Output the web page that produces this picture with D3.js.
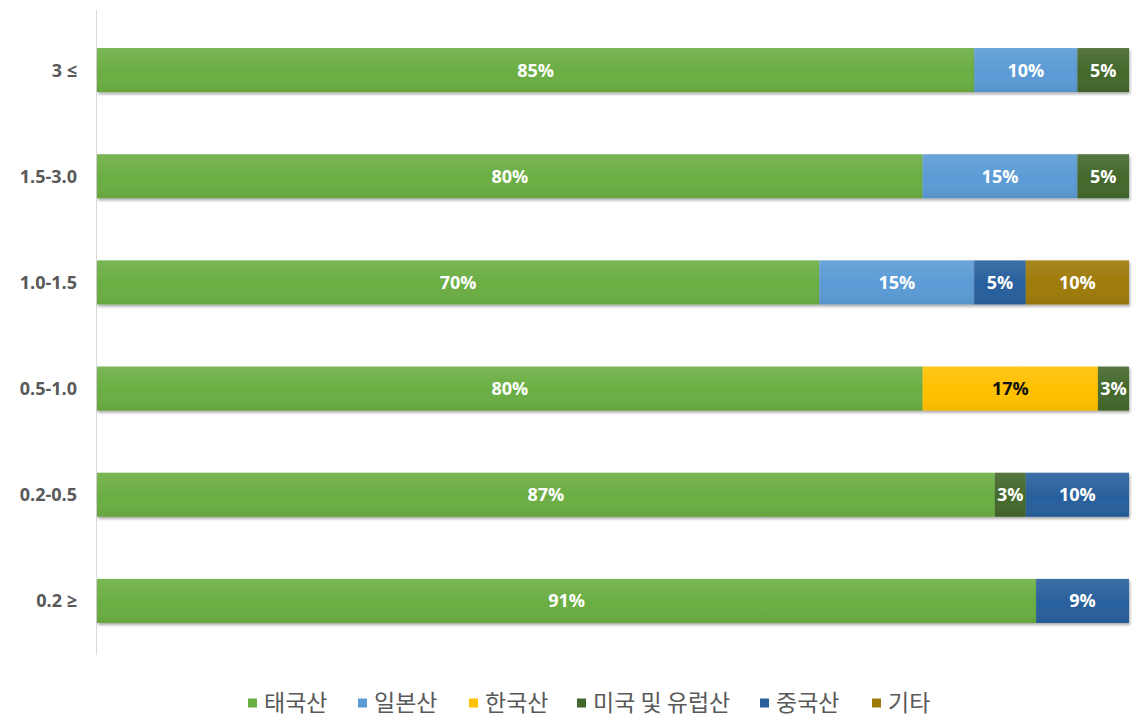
<!DOCTYPE html>
<html>
<head>
<meta charset="utf-8">
<script src="https://cdn.jsdelivr.net/npm/d3@7"></script>
<style>
  html, body { margin: 0; padding: 0; background: #fff; }
  svg { display: block; }
</style>
</head>
<body>
<svg id="chart" width="1132" height="717"></svg>
<script>
// Size-class categories, top to bottom
const categories = ["3 ≤", "1.5-3.0", "1.0-1.5", "0.5-1.0", "0.2-0.5", "0.2 ≥"];

// Origin shares (%) per category, in the same order as categories
const series = ["태국산", "일본산", "한국산", "미국 및 유럽산", "중국산", "기타"];
const thai     = [85, 80, 70, 80, 87, 91];
const japan    = [10, 15, 15, 0, 0, 0];
const korea    = [0, 0, 0, 17, 0, 0];
const usEurope = [5, 5, 0, 3, 3, 0];
const china    = [0, 0, 5, 0, 10, 9];
const other    = [0, 0, 10, 0, 0, 0];

const colors = ["#6BAE43", "#5B9BD5", "#FFC000", "#43682B", "#28609C", "#9E7A08"];
const labelColors = ["#fff", "#fff", "#111", "#fff", "#fff", "#fff"];

const seriesValues = [thai, japan, korea, usEurope, china, other];
const rows = categories.map((c, i) => {
  const r = { category: c };
  series.forEach((s, k) => r[s] = seriesValues[k][i]);
  return r;
});

const svg = d3.select("#chart");
const x = d3.scaleLinear().domain([0, 100]).range([97, 1129]);
const y = d3.scaleBand().domain(categories).range([17, 654])
  .paddingInner(0.585).paddingOuter(0.2925);

const defs = svg.append("defs");
const f = defs.append("filter").attr("id", "shadow")
  .attr("x", "-5%").attr("y", "-20%").attr("width", "110%").attr("height", "150%");
f.append("feGaussianBlur").attr("in", "SourceAlpha").attr("stdDeviation", 1.6).attr("result", "b");
f.append("feOffset").attr("in", "b").attr("dx", 0.5).attr("dy", 2).attr("result", "o");
f.append("feComponentTransfer").attr("in", "o").attr("result", "s")
  .append("feFuncA").attr("type", "linear").attr("slope", 0.35);
const m = f.append("feMerge");
m.append("feMergeNode").attr("in", "s");
m.append("feMergeNode").attr("in", "SourceGraphic");

// Soft top-to-bottom sheen on each segment
const g = defs.append("linearGradient").attr("id", "sheen")
  .attr("x1", 0).attr("y1", 0).attr("x2", 0).attr("y2", 1);
g.append("stop").attr("offset", "0%").attr("stop-color", "#fff").attr("stop-opacity", 0.1);
g.append("stop").attr("offset", "55%").attr("stop-color", "#fff").attr("stop-opacity", 0);
g.append("stop").attr("offset", "100%").attr("stop-color", "#000").attr("stop-opacity", 0.06);

// Vertical category axis line
svg.append("line")
  .attr("x1", 96.5).attr("x2", 96.5).attr("y1", 10).attr("y2", 655)
  .attr("stroke", "#d9d9d9").attr("stroke-width", 1);

const stacked = d3.stack().keys(series)(rows);

const layers = svg.append("g").selectAll("g.layer")
  .data(stacked).join("g").attr("class", "layer")
  .attr("filter", "url(#shadow)");

layers.each(function(layer, k) {
  const sel = d3.select(this).selectAll("g.seg")
    .data(layer.filter(d => d[1] - d[0] > 0)).join("g").attr("class", "seg");
  sel.append("rect")
    .attr("x", d => x(d[0]))
    .attr("y", d => y(d.data.category))
    .attr("width", d => x(d[1]) - x(d[0]))
    .attr("height", y.bandwidth())
    .attr("fill", colors[k]);
  sel.append("rect")
    .attr("x", d => x(d[0]))
    .attr("y", d => y(d.data.category))
    .attr("width", d => x(d[1]) - x(d[0]))
    .attr("height", y.bandwidth())
    .attr("fill", "url(#sheen)");
});

// Value labels
stacked.forEach((layer, k) => {
  svg.append("g").selectAll("text")
    .data(layer.filter(d => d[1] - d[0] > 0)).join("text")
    .attr("x", d => (x(d[0]) + x(d[1])) / 2)
    .attr("y", d => y(d.data.category) + y.bandwidth() / 2)
    .attr("dy", "0.36em")
    .attr("text-anchor", "middle")
    .attr("font-family", "'Open Sans', 'Noto Sans', sans-serif")
    .attr("font-weight", "bold")
    .attr("font-size", 18)
    .attr("fill", labelColors[k])
    .text(d => (d[1] - d[0]) + "%");
});

// Category labels
svg.append("g").selectAll("text")
  .data(categories).join("text")
  .attr("x", 77)
  .attr("y", d => y(d) + y.bandwidth() / 2)
  .attr("dy", "0.36em")
  .attr("text-anchor", "end")
  .attr("font-family", "'Open Sans', 'Noto Sans', sans-serif")
  .attr("font-weight", "bold")
  .attr("font-size", 18)
  .attr("fill", "#595959")
  .text(d => d);

// Legend
const legendX = [248, 358, 469, 577, 760, 872];
const legend = svg.append("g").selectAll("g")
  .data(series).join("g")
  .attr("transform", (d, i) => `translate(${legendX[i]},703)`);
legend.append("rect")
  .attr("x", 0).attr("y", -4.5).attr("width", 9).attr("height", 9)
  .attr("fill", (d, i) => colors[i]);
legend.append("text")
  .attr("x", 16).attr("y", 0).attr("dy", "0.36em")
  .attr("font-family", "'Noto Sans CJK KR', sans-serif")
  .attr("font-size", 23)
  .attr("fill", "#595959")
  .text(d => d);
</script>
</body>
</html>
